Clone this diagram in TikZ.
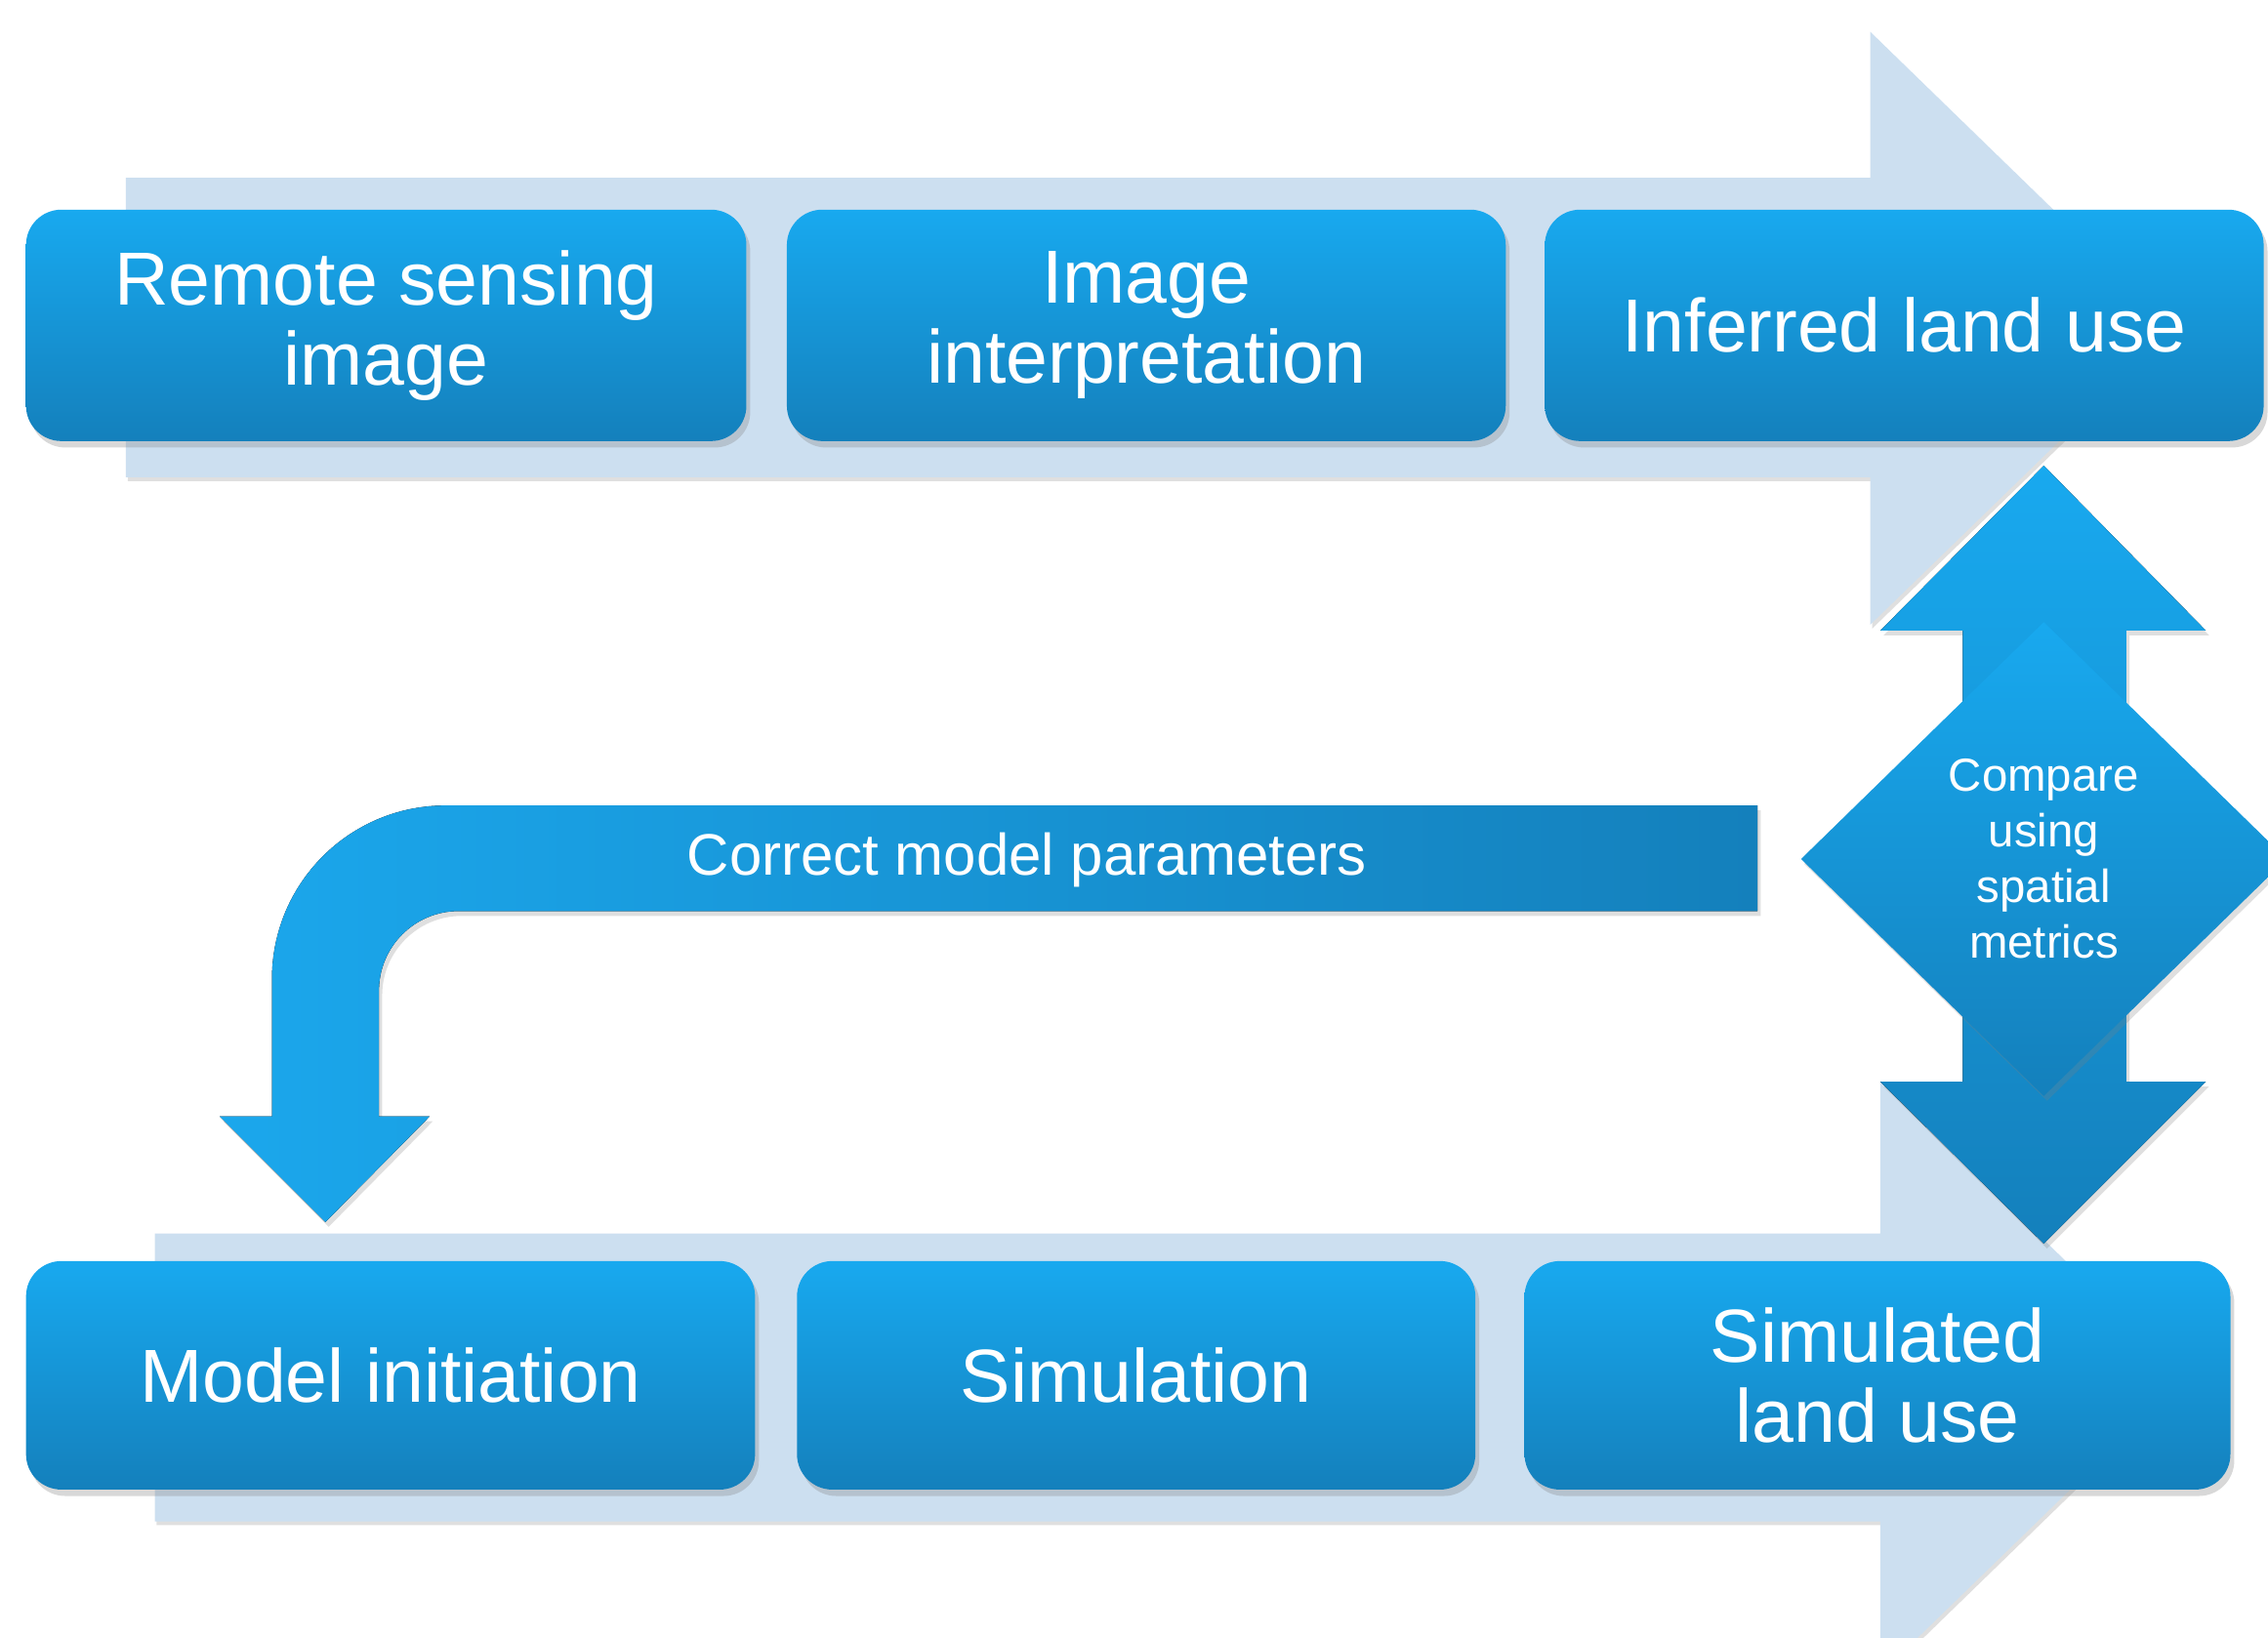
\documentclass[tikz,border=0pt]{standalone}
\usepackage{fontspec}
\setmainfont{Liberation Sans}
\usepackage{xcolor}
\usepackage{tikz}
\usetikzlibrary{positioning,calc,shapes.geometric,shadows}
\definecolor{pale}{HTML}{CCDFF0}
\definecolor{boxtop}{HTML}{18A9EF}
\definecolor{boxmid}{HTML}{1B9CDC}
\definecolor{boxbot}{HTML}{1480BC}
\definecolor{bendl}{HTML}{1BA7EC}
\definecolor{bendr}{HTML}{1480BC}
\tikzset{
  palearrow/.style = {fill=pale, drop shadow={shadow xshift=0.6pt, shadow yshift=-1.2pt, opacity=0.25}},
  step box/.style  = {rectangle, rounded corners=11pt, top color=boxtop, middle color=boxmid, bottom color=boxbot,
                      draw=none, text=white, align=center, inner sep=0pt,
                      font=\fontsize{23.4}{24.8}\selectfont,
                      drop shadow={shadow xshift=1.2pt, shadow yshift=-2pt, opacity=0.3}},
  bluearrow/.style = {top color=boxtop, bottom color=boxbot, draw=none,
                      drop shadow={shadow xshift=1pt, shadow yshift=-1.5pt, opacity=0.25}},
  metric/.style    = {diamond, top color=boxtop, bottom color=boxbot, draw=none, inner sep=0pt,
                      minimum width=151.2pt, minimum height=147.6pt, text=white, align=center,
                      font=\fontsize{14.4}{17.3}\selectfont,
                      drop shadow={shadow xshift=1pt, shadow yshift=-1.5pt, opacity=0.25}},
  bentlab/.style   = {text=white, inner sep=0pt, font=\fontsize{18.2}{20}\selectfont},
}

\begin{document}
\begin{tikzpicture}[x=0.45pt,y=0.45pt]
\useasboundingbox (0,0) rectangle (1568,1132);
\fill[white] (0,0) rectangle (1568,1132);

% ---------- pale process arrows behind the boxes -----------------------
\fill[palearrow] (87,1009) -- (1293,1009) -- (1293,1110) -- (1504,905)
  -- (1293,700) -- (1293,802) -- (87,802) -- cycle;
\fill[palearrow] (107,279) -- (1300,279) -- (1300,384.5) -- (1511,179.5)
  -- (1300,-25.5) -- (1300,80) -- (107,80) -- cycle;

% ---------- observed row ------------------------------------------------
\node[step box, minimum width=224.1pt, minimum height=72pt] (rsimg) at (267,907)
  {Remote sensing\\image};
\node[step box, minimum width=223.65pt, minimum height=72pt] (interp) at (792.5,907)
  {Image\\interpretation};
\node[step box, minimum width=223.65pt, minimum height=72pt] (inferred) at (1316.5,907)
  {Inferred land use};

% ---------- model row ---------------------------------------------------
\node[step box, minimum width=226.8pt, minimum height=71.1pt] (init) at (270,181)
  {Model initiation};
\node[step box, minimum width=211.05pt, minimum height=71.1pt] (sim) at (785.5,181)
  {Simulation};
\node[step box, minimum width=219.6pt, minimum height=71.1pt] (simulated) at (1298,181)
  {Simulated\\land use};

% ---------- comparison: double arrow and diamond ------------------------
\fill[bluearrow] (1413,810) -- (1525,696) -- (1470,696) -- (1470,384) -- (1525,384)
  -- (1413,272) -- (1300,384) -- (1357,384) -- (1357,696) -- (1300,696) -- cycle;
\node[metric] (compare) at (1413,538) {Compare\\using\\spatial\\metrics};

% ---------- feedback to the model ---------------------------------------
\fill[left color=bendl, right color=bendr,
      drop shadow={shadow xshift=1pt, shadow yshift=-1.5pt, opacity=0.25}]
  (1215,575) -- (308,575) arc (90:180:120) -- (188,360) -- (152,360)
  -- (225,287) -- (297,360) -- (262,360) -- (262,447) arc (180:90:55)
  -- (1215,502) -- cycle;
\node[bentlab] (correct) at (710,537) {Correct model parameters};

\end{tikzpicture}
\end{document}
